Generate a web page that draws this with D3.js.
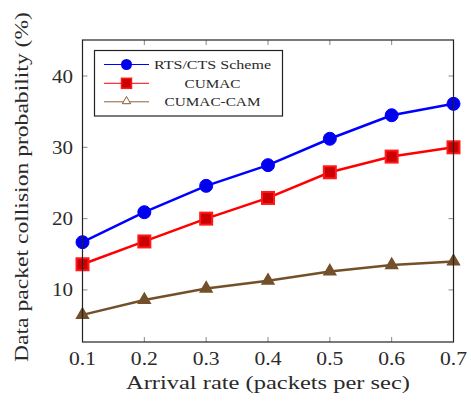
<!DOCTYPE html>
<head>
  <meta charset="utf-8">
  <script src="https://d3js.org/d3.v7.min.js"></script>
  <style>
    body { margin: 0; background: #fff; }
    text { font-family: "Liberation Serif", "DejaVu Serif", serif; fill: #2a2a2a; }
  </style>
</head>
<body>
<script>
// data
var rates = [0.1, 0.2, 0.3, 0.4, 0.5, 0.6, 0.7];
var rtsCts = [16.7, 20.9, 24.6, 27.5, 31.2, 34.5, 36.1];
var cumac = [13.6, 16.8, 20.0, 22.9, 26.5, 28.7, 30.0];
var cumacCam = [6.5, 8.6, 10.2, 11.3, 12.6, 13.5, 14.0];
var xTicks = [0.1, 0.2, 0.3, 0.4, 0.5, 0.6, 0.7];
var yTicks = [10, 20, 30, 40];
var names = ["RTS/CTS Scheme", "CUMAC", "CUMAC-CAM"];

var w = 471, h = 403;
var mL = 82.5, mR = 453.5, mT = 40, mB = 342;

var svg = d3.select("body").append("svg")
  .attr("width", w)
  .attr("height", h);

var x = d3.scaleLinear().domain([0.1, 0.7]).range([mL, mR]);
var y = d3.scaleLinear().domain([2.7, 45.05]).range([mB, mT]);

// tick marks (inside, all four sides)
var tk = svg.append("g").attr("stroke", "#888").attr("stroke-width", 1);
xTicks.forEach(function(t) {
  tk.append("line").attr("x1", x(t)).attr("x2", x(t)).attr("y1", mB).attr("y2", mB - 5);
  tk.append("line").attr("x1", x(t)).attr("x2", x(t)).attr("y1", mT).attr("y2", mT + 5);
});
yTicks.forEach(function(t) {
  tk.append("line").attr("x1", mL).attr("x2", mL + 5).attr("y1", y(t)).attr("y2", y(t));
  tk.append("line").attr("x1", mR).attr("x2", mR - 5).attr("y1", y(t)).attr("y2", y(t));
});

// tick labels
svg.append("g").selectAll("text").data(xTicks).enter().append("text")
  .attr("x", function(d) { return x(d); })
  .attr("y", mB + 23)
  .attr("text-anchor", "middle")
  .attr("textLength", 27).attr("lengthAdjust", "spacingAndGlyphs")
  .style("font-size", "18px")
  .text(function(d) { return d3.format(".1f")(d); });

svg.append("g").selectAll("text").data(yTicks).enter().append("text")
  .attr("x", mL - 20)
  .attr("y", function(d) { return y(d) + 6.5; })
  .attr("text-anchor", "middle")
  .attr("textLength", 21).attr("lengthAdjust", "spacingAndGlyphs")
  .style("font-size", "18px")
  .text(function(d) { return d; });

// axis titles
svg.append("text")
  .attr("x", 268)
  .attr("y", 389)
  .attr("text-anchor", "middle")
  .attr("textLength", 284).attr("lengthAdjust", "spacingAndGlyphs")
  .style("font-size", "18.5px")
  .text("Arrival rate (packets per sec)");

svg.append("text")
  .attr("transform", "translate(28," + 187 + ") rotate(-90)")
  .attr("text-anchor", "middle")
  .attr("textLength", 350).attr("lengthAdjust", "spacingAndGlyphs")
  .style("font-size", "18.5px")
  .text("Data packet collision probability (%)");

var line = d3.line()
  .x(function(d, i) { return x(rates[i]); })
  .y(function(d) { return y(d); });

var tri = d3.symbol().type(d3.symbolTriangle);

// CUMAC-CAM
svg.append("path").datum(cumacCam)
  .attr("d", line).attr("fill", "none")
  .attr("stroke", "#73502a").attr("stroke-width", 2.5);
svg.append("g").selectAll("path").data(cumacCam).enter().append("path")
  .attr("d", tri.size(60))
  .attr("transform", function(d, i) { return "translate(" + x(rates[i]) + "," + y(d) + ")"; })
  .attr("fill", "#73502a").attr("stroke", "#73502a").attr("stroke-width", 1.5);

// CUMAC
svg.append("path").datum(cumac)
  .attr("d", line).attr("fill", "none")
  .attr("stroke", "#ff0000").attr("stroke-width", 2.5);
svg.append("g").selectAll("rect").data(cumac).enter().append("rect")
  .attr("x", function(d, i) { return x(rates[i]) - 6; })
  .attr("y", function(d) { return y(d) - 6; })
  .attr("width", 12).attr("height", 12)
  .attr("fill", "#cc0000").attr("stroke", "#ff1a1a").attr("stroke-width", 2);

// RTS/CTS
svg.append("path").datum(rtsCts)
  .attr("d", line).attr("fill", "none")
  .attr("stroke", "#0000ff").attr("stroke-width", 2.5);
svg.append("g").selectAll("circle").data(rtsCts).enter().append("circle")
  .attr("cx", function(d, i) { return x(rates[i]); })
  .attr("cy", function(d) { return y(d); })
  .attr("r", 6.5)
  .attr("fill", "#0000ee").attr("stroke", "#0000ff").attr("stroke-width", 1);

// frame
svg.append("rect")
  .attr("x", mL).attr("y", mT)
  .attr("width", mR - mL).attr("height", mB - mT)
  .attr("fill", "none").attr("stroke", "#222").attr("stroke-width", 1.2);

// legend
var lg = svg.append("g");
lg.append("rect")
  .attr("x", 94.5).attr("y", 50.5).attr("width", 188).attr("height", 65.5)
  .attr("fill", "#fff").attr("stroke", "#222").attr("stroke-width", 1.2);
var rowY = [64.5, 83.3, 101.8];
var cols = ["#0000ff", "#ff0000", "#8a6340"];
var lens = [117, 56, 96];
rowY.forEach(function(ry, i) {
  lg.append("line").attr("x1", 104).attr("x2", 149).attr("y1", ry).attr("y2", ry)
    .attr("stroke", cols[i]).attr("stroke-width", 1);
});
lg.append("circle").attr("cx", 126.5).attr("cy", rowY[0]).attr("r", 5.5).attr("fill", "#0000ee");
lg.append("rect").attr("x", 121.5).attr("y", rowY[1] - 5).attr("width", 10).attr("height", 10)
  .attr("fill", "#cc0000").attr("stroke", "#ff1a1a").attr("stroke-width", 1.5);
lg.append("path").attr("d", tri.size(30))
  .attr("transform", "translate(126.5," + (rowY[2] - 0.5) + ")")
  .attr("fill", "#fff").attr("stroke", "#8a5a30").attr("stroke-width", 1);
names.forEach(function(n, i) {
  lg.append("text").attr("x", 212.5).attr("y", rowY[i] + 4.5)
    .attr("text-anchor", "middle")
    .attr("textLength", lens[i]).attr("lengthAdjust", "spacingAndGlyphs")
    .style("font-size", "13.5px")
    .text(n);
});
</script>
</body>
